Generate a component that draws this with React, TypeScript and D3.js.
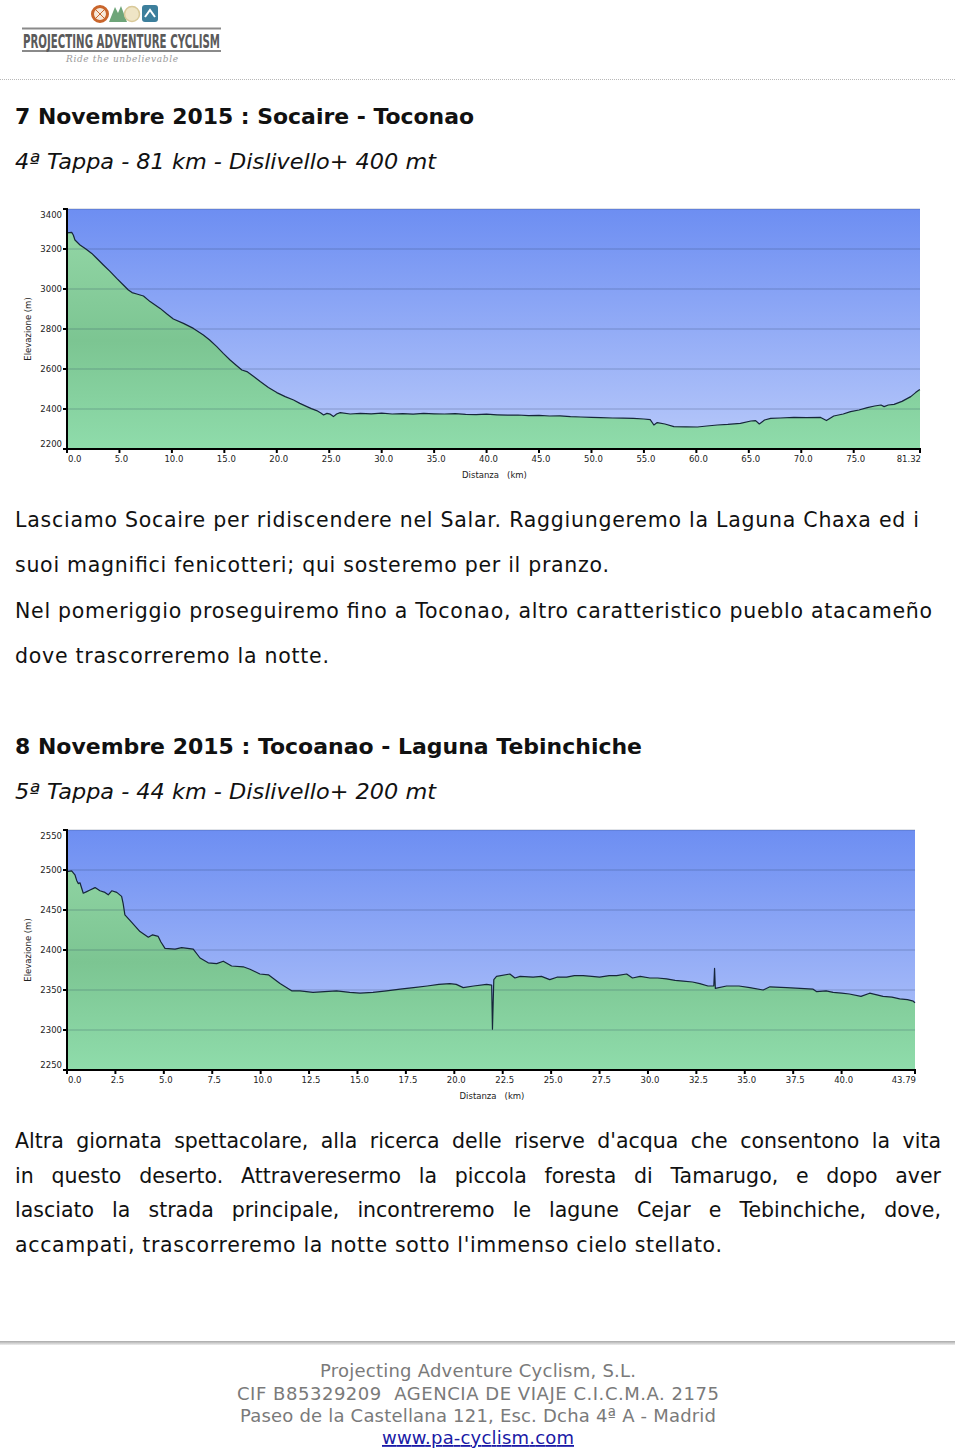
import React from "react";
import * as d3 from "d3";

// ---------- DATA ----------
const stage4Km = [0, 0.45, 0.6, 0.76, 1.24, 1.8, 2.36, 2.9, 3.47, 4.1, 4.74, 5.3, 5.85, 6.2, 6.65, 7.29, 7.92, 8.88, 9.5, 10.14, 11.1, 12.05, 13.0, 13.6, 14.28, 14.9, 15.55, 16.1, 16.67, 17.15, 17.8, 18.42, 19.2, 20.0, 20.8, 21.6, 22.2, 22.87, 23.3, 23.8, 24.2, 24.46, 24.78, 25.1, 25.4, 25.7, 26.05, 27.0, 27.96, 29, 30, 31, 32, 33, 34, 35, 36, 37, 38, 39, 40, 41, 42, 43, 44, 45, 46, 47, 48, 49, 50, 50.86, 52, 53, 54, 55, 55.6, 55.95, 56.27, 57, 57.86, 59, 60.1, 61, 62, 63, 64.2, 65.2, 65.65, 66.0, 66.5, 67.08, 68, 69.3, 70.5, 71.85, 72.4, 73.1, 74, 74.7, 75.5, 76.3, 77, 77.6, 77.9, 78.3, 78.85, 79.6, 80.44, 80.9, 81.23, 81.32];
const stage4Elev = [3281, 3283, 3270, 3245, 3220, 3200, 3178, 3150, 3120, 3088, 3053, 3024, 2995, 2982, 2975, 2965, 2937, 2903, 2876, 2850, 2828, 2803, 2770, 2745, 2712, 2678, 2645, 2620, 2595, 2587, 2562, 2537, 2508, 2482, 2462, 2445, 2428, 2412, 2402, 2392, 2380, 2370, 2378, 2374, 2362, 2375, 2382, 2375, 2378, 2376, 2379, 2375, 2377, 2374, 2378, 2376, 2375, 2377, 2373, 2372, 2374, 2371, 2369, 2370, 2367, 2368, 2365, 2366, 2362, 2360, 2358, 2357, 2355, 2354, 2353, 2350, 2347, 2320, 2332, 2325, 2312, 2311, 2310, 2315, 2320, 2323, 2328, 2340, 2342, 2325, 2345, 2353, 2355, 2358, 2357, 2358, 2342, 2365, 2375, 2387, 2395, 2407, 2415, 2420, 2412, 2420, 2423, 2438, 2462, 2482, 2495, 2497];

const stage5Km = [0, 0.24, 0.41, 0.5, 0.58, 0.67, 0.84, 1.02, 1.19, 1.45, 1.7, 1.96, 2.13, 2.31, 2.57, 2.82, 2.9, 2.99, 3.25, 3.77, 4.2, 4.42, 4.71, 4.85, 5.06, 5.58, 5.92, 6.52, 6.87, 7.29, 7.73, 8.07, 8.5, 9.1, 9.45, 9.96, 10.4, 11.0, 11.6, 12.03, 12.7, 13.3, 13.92, 14.6, 15.13, 15.8, 16.5, 17.2, 17.9, 18.6, 19.2, 19.77, 20.1, 20.46, 21.0, 21.67, 21.93, 21.97, 22.04, 22.18, 22.87, 23.13, 23.4, 24.07, 24.5, 24.93, 25.3, 25.8, 26.2, 26.65, 27.1, 27.5, 28.0, 28.38, 28.9, 29.2, 29.6, 30.1, 30.5, 30.96, 31.4, 31.82, 32.3, 32.68, 33.1, 33.4, 33.44, 33.48, 34.06, 34.7, 35.26, 35.95, 36.3, 37.15, 37.85, 38.53, 38.7, 39.2, 39.56, 40.0, 40.4, 41.0, 41.45, 42.14, 42.6, 43.0, 43.4, 43.7, 43.79];
const stage5Elev = [2498, 2499, 2494, 2487, 2483, 2484, 2471, 2473, 2475, 2478, 2474, 2472, 2469, 2474, 2472, 2467, 2458, 2444, 2437, 2423, 2416, 2419, 2417, 2410, 2402, 2401, 2403, 2401, 2390, 2384, 2383, 2386, 2380, 2379, 2376, 2370, 2369, 2358, 2349, 2349, 2347, 2348, 2349, 2347, 2346, 2347, 2349, 2351, 2353, 2355, 2357, 2358, 2357, 2353, 2355, 2357, 2356, 2301, 2363, 2367, 2370, 2365, 2367, 2366, 2367, 2363, 2366, 2366, 2368, 2368, 2367, 2366, 2368, 2368, 2370, 2365, 2367, 2365, 2365, 2364, 2362, 2361, 2360, 2358, 2355, 2355, 2377, 2352, 2355, 2355, 2353, 2350, 2354, 2353, 2352, 2351, 2348, 2349, 2347, 2346, 2345, 2342, 2346, 2342, 2341, 2339, 2338, 2336, 2334];

const stage4XTicks = [0, 5, 10, 15, 20, 25, 30, 35, 40, 45, 50, 55, 60, 65, 70, 75, 81.32];
const stage4YTicks = [2200, 2400, 2600, 2800, 3000, 3200, 3400];
const stage5XTicks = [0, 2.5, 5, 7.5, 10, 12.5, 15, 17.5, 20, 22.5, 25, 27.5, 30, 32.5, 35, 37.5, 40, 43.79];
const stage5YTicks = [2250, 2300, 2350, 2400, 2450, 2500, 2550];

const para1 = [
  "Lasciamo Socaire per ridiscendere nel Salar. Raggiungeremo la Laguna Chaxa ed i",
  "suoi magnifici fenicotteri; qui sosteremo per il pranzo.",
  "Nel pomeriggio proseguiremo fino a Toconao, altro caratteristico pueblo atacameño",
  "dove trascorreremo la notte.",
];
const para1Widths = [904, 594, 917, 314];
const para2 = [
  "Altra giornata spettacolare, alla ricerca delle riserve d'acqua che consentono la vita",
  "in questo deserto. Attraveresermo la piccola foresta di Tamarugo, e dopo aver",
  "lasciato la strada principale, incontreremo le lagune Cejar e Tebinchiche, dove,",
  "accampati, trascorreremo la notte sotto l'immenso cielo stellato.",
];
const footerLines = [
  "Projecting Adventure Cyclism, S.L.",
  "CIF B85329209  AGENCIA DE VIAJE C.I.C.M.A. 2175",
  "Paseo de la Castellana 121, Esc. Dcha 4ª A - Madrid",
];
const footerWidths = [316, 482, 476];
const footerLink = "www.pa-cyclism.com";

// ---------- HELPERS ----------
let _ctx: CanvasRenderingContext2D | null = null;
function measure(text: string, font: string): number {
  if (!_ctx && typeof document !== "undefined") {
    _ctx = document.createElement("canvas").getContext("2d");
  }
  if (!_ctx) return text.length * 10;
  _ctx.font = font;
  return _ctx.measureText(text).width;
}

const FONT = "'DejaVu Sans', Verdana, sans-serif";

function JustifiedLine({ text, x, y, width, size }: { text: string; x: number; y: number; width: number; size: number }) {
  const words = text.split(" ");
  const font = `${size}px 'DejaVu Sans'`;
  const widths = words.map((w) => measure(w, font));
  const total = widths.reduce((a, b) => a + b, 0);
  const gap = words.length > 1 ? (width - total) / (words.length - 1) : 0;
  let cx = x;
  const xs = widths.map((w) => {
    const p = cx;
    cx += w + gap;
    return p;
  });
  return (
    <text y={y} fontFamily={FONT} fontSize={size} fill="#111">
      {words.map((w, i) => (
        <tspan key={i} x={xs[i]}>{w}</tspan>
      ))}
    </text>
  );
}

type ProfileProps = {
  id: string;
  km: number[];
  elev: number[];
  xMax: number;
  yMin: number;
  yMax: number;
  xTicks: number[];
  yTicks: number[];
  left: number;
  right: number;
  top: number;
  bottom: number;
  xFmt: (v: number) => string;
};

function Profile(p: ProfileProps) {
  const x = d3.scaleLinear().domain([0, p.xMax]).range([p.left, p.right]);
  const y = d3.scaleLinear().domain([p.yMin, p.yMax]).range([p.bottom, p.top]);
  const pts = p.km.map((k, i) => [k, p.elev[i]] as [number, number]);
  const area = d3.area<[number, number]>().x((d) => x(d[0])).y0(p.bottom).y1((d) => y(d[1]));
  const line = d3.line<[number, number]>().x((d) => x(d[0])).y((d) => y(d[1]));
  const midY = (p.top + p.bottom) / 2;
  const midX = (p.left + p.right) / 2;
  return (
    <g>
      <defs>
        <linearGradient id={`sky-${p.id}`} gradientUnits="userSpaceOnUse" x1="0" y1={p.top} x2="0" y2={p.bottom}>
          <stop offset="0" stopColor="#6d8ef2" />
          <stop offset="1" stopColor="#b8c9fa" />
        </linearGradient>
        <linearGradient id={`grass-${p.id}`} gradientUnits="userSpaceOnUse" x1="0" y1={p.top} x2="0" y2={p.bottom}>
          <stop offset="0" stopColor="#97d9a9" />
          <stop offset="0.55" stopColor="#7cc592" />
          <stop offset="1" stopColor="#8fdcab" />
        </linearGradient>
      </defs>
      <rect x={p.left} y={p.top} width={p.right - p.left} height={p.bottom - p.top} fill={`url(#sky-${p.id})`} />
      <path d={area(pts) || ""} fill={`url(#grass-${p.id})`} />
      {p.yTicks.map((t) => (
        <line key={t} x1={p.left} x2={p.right} y1={y(t)} y2={y(t)} stroke="rgba(30,50,90,0.28)" strokeWidth={1} />
      ))}
      <path d={line(pts) || ""} fill="none" stroke="#16263a" strokeWidth={1.2} strokeLinejoin="round" />
      {/* axes */}
      <line x1={p.left} x2={p.left} y1={p.top - 1} y2={p.bottom + 1} stroke="#000" strokeWidth={2} />
      <line x1={p.left - 1} x2={p.right + 1} y1={p.bottom} y2={p.bottom} stroke="#000" strokeWidth={2} />
      {p.yTicks.map((t, i) => {
        const ty = y(t);
        let ly = ty + 3;
        if (i === p.yTicks.length - 1) ly = ty + 9;
        if (i === 0) ly = ty - 2;
        return (
          <g key={t}>
            <line x1={p.left - 4} x2={p.left} y1={ty} y2={ty} stroke="#000" strokeWidth={2} />
            <text x={p.left - 5} y={ly} textAnchor="end" fontFamily={FONT} fontSize={8.5} fill="#222">{t}</text>
          </g>
        );
      })}
      {p.xTicks.map((t, i) => {
        const tx = x(t);
        const last = i === p.xTicks.length - 1;
        const anchor = i === 0 ? "start" : last ? "end" : "middle";
        const lx = i === 0 ? tx + 1 : last ? tx + 1 : tx + 2;
        return (
          <g key={t}>
            <line x1={tx} x2={tx} y1={p.bottom} y2={p.bottom + 4} stroke="#000" strokeWidth={2} />
            <text x={lx} y={p.bottom + 13} textAnchor={anchor} fontFamily={FONT} fontSize={8.5} fill="#222">{p.xFmt(t)}</text>
          </g>
        );
      })}
      <text transform={`translate(31,${midY}) rotate(-90)`} textAnchor="middle" fontFamily={FONT} fontSize={8.5} fill="#222">Elevazione (m)</text>
      <text x={midX + 1} y={p.bottom + 29} textAnchor="middle" fontFamily={FONT} fontSize={8.5} fill="#222" xmlSpace="preserve">Distanza   (km)</text>
    </g>
  );
}

function Logo() {
  return (
    <g>
      <circle cx={100} cy={14} r={7.5} fill="#f6e9da" stroke="#c9652b" strokeWidth={3} />
      <line x1={95} y1={9} x2={105} y2={19} stroke="#c9652b" strokeWidth={1} />
      <line x1={105} y1={9} x2={95} y2={19} stroke="#c9652b" strokeWidth={1} />
      <polygon points="109,22 115,7 118,13 121,6 127,22" fill="#6ea579" />
      <circle cx={132} cy={14} r={7.5} fill="#efe5c6" stroke="#d9c999" strokeWidth={1.5} />
      <rect x={142} y={5} width={16} height={17} rx={3} fill="#3d7f9c" />
      <polyline points="145,17 150,10 155,17" fill="none" stroke="#fff" strokeWidth={2} />
      <line x1={22} x2={221} y1={28.5} y2={28.5} stroke="#8a8a8a" strokeWidth={2} />
      <line x1={22} x2={221} y1={51} y2={51} stroke="#8a8a8a" strokeWidth={2} />
      <text x={23} y={47.5} fontFamily="'DejaVu Sans Condensed', 'Liberation Sans Narrow', sans-serif" fontWeight="bold" fontSize={19} fill="#5a5a5a" textLength={197} lengthAdjust="spacingAndGlyphs">PROJECTING ADVENTURE CYCLISM</text>
      <text x={66} y={62} fontFamily="'DejaVu Serif', serif" fontStyle="italic" fontSize={9} fill="#9a9a9a" textLength={112} lengthAdjust="spacing">Ride the unbelievable</text>
    </g>
  );
}

export default function App() {
  return (
    <div style={{ position: "absolute", left: 0, top: 0 }}>
      <svg width={960} height={1453} viewBox="0 0 960 1453" style={{ display: "block", background: "#fff" }}>
        <Logo />
        <line x1={0} x2={955} y1={79.5} y2={79.5} stroke="#b8b8b8" strokeWidth={1} strokeDasharray="1,1" />

        <text x={15} y={124} fontFamily={FONT} fontWeight="bold" fontSize={21} fill="#111" textLength={459} lengthAdjust="spacingAndGlyphs">7 Novembre 2015 : Socaire - Toconao</text>
        <text x={15} y={169} fontFamily={FONT} fontStyle="italic" fontSize={21} fill="#111" textLength={421} lengthAdjust="spacingAndGlyphs">4ª Tappa - 81 km - Dislivello+ 400 mt</text>

        <Profile id="s4" km={stage4Km} elev={stage4Elev} xMax={81.32} yMin={2200} yMax={3400}
          xTicks={stage4XTicks} yTicks={stage4YTicks} left={67} right={920} top={209} bottom={449}
          xFmt={(v) => (v === 81.32 ? "81.32" : v.toFixed(1))} />

        {para1.map((t, i) => (
          <text key={i} x={15} y={527 + i * 45.3} fontFamily={FONT} fontSize={20.5} fill="#111" textLength={para1Widths[i]} lengthAdjust="spacing">{t}</text>
        ))}

        <text x={15} y={754} fontFamily={FONT} fontWeight="bold" fontSize={21} fill="#111" textLength={627} lengthAdjust="spacingAndGlyphs">8 Novembre 2015 : Tocoanao - Laguna Tebinchiche</text>
        <text x={15} y={799} fontFamily={FONT} fontStyle="italic" fontSize={21} fill="#111" textLength={421} lengthAdjust="spacingAndGlyphs">5ª Tappa - 44 km - Dislivello+ 200 mt</text>

        <Profile id="s5" km={stage5Km} elev={stage5Elev} xMax={43.79} yMin={2250} yMax={2550}
          xTicks={stage5XTicks} yTicks={stage5YTicks} left={67} right={915} top={830} bottom={1070}
          xFmt={(v) => (v === 43.79 ? "43.79" : v.toFixed(1))} />

        {para2.slice(0, 3).map((t, i) => (
          <JustifiedLine key={i} text={t} x={15} y={1148 + i * 34.5} width={926} size={20.5} />
        ))}
        <text x={15} y={1251.5} fontFamily={FONT} fontSize={20.5} fill="#111" textLength={707} lengthAdjust="spacing">{para2[3]}</text>

        <defs>
          <linearGradient id="rule" x1="0" y1="0" x2="0" y2="1">
            <stop offset="0" stopColor="#a8a8a8" />
            <stop offset="1" stopColor="#eeeeee" />
          </linearGradient>
        </defs>
        <rect x={0} y={1341} width={955} height={4} fill="url(#rule)" />

        {footerLines.map((t, i) => (
          <text key={i} x={478 - footerWidths[i] / 2} y={1377 + i * 22.5} fontFamily={FONT} fontSize={18} fill="#7a7a7a" xmlSpace="preserve" textLength={footerWidths[i]} lengthAdjust="spacing">{t}</text>
        ))}
        <text x={382} y={1444} fontFamily={FONT} fontSize={18} fill="#1a1aa6" textDecoration="underline" textLength={192} lengthAdjust="spacing">{footerLink}</text>
      </svg>
    </div>
  );
}
